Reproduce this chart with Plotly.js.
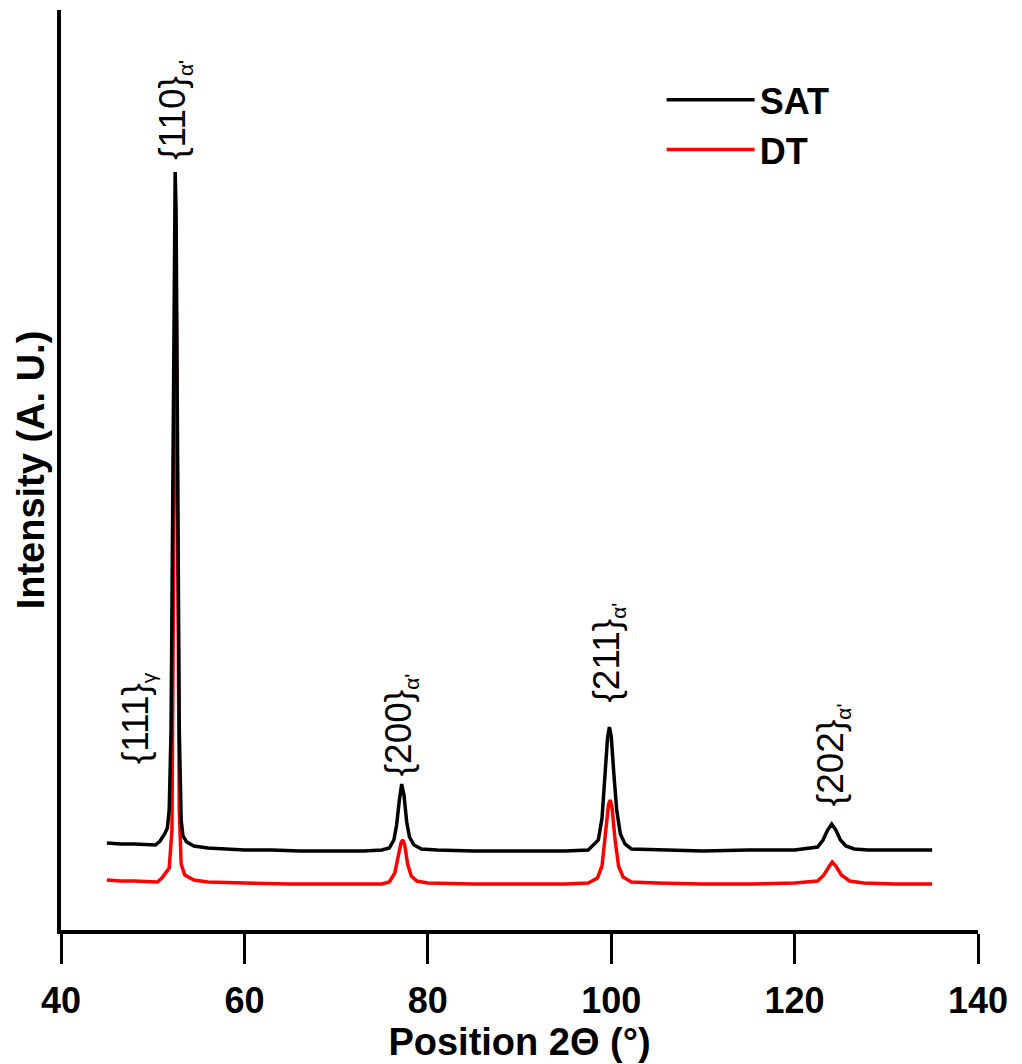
<!DOCTYPE html>
<html>
<head>
<meta charset="utf-8">
<script src="https://cdn.plot.ly/plotly-3.0.1.min.js"></script>
<style>
  html, body { margin: 0; padding: 0; background: #ffffff; }
  #chart { width: 1022px; height: 1064px; }
</style>
</head>
<body>
<div id="chart"></div>
<script>
// ---- Data (2θ in degrees, intensity in arbitrary units) ----
const satX = [45.0, 46.5, 48.0, 49.5, 50.3, 50.8, 51.3, 51.6, 51.8, 52.0, 52.2, 52.35, 52.45, 52.55, 52.7, 52.9, 53.1, 53.3, 53.7, 54.5,
  56.0, 58.0, 60.0, 63.0, 66.0, 70.0, 73.0, 75.0, 75.8, 76.3, 76.6, 76.9, 77.15, 77.4, 77.7, 78.0, 78.5, 79.3, 81.0,
  85.0, 90.0, 95.0, 97.5, 98.6, 99.0, 99.3, 99.6, 99.8, 100.0, 100.3, 100.6, 101.0, 101.5, 102.2, 105.0,
  110.0, 115.0, 120.0, 122.5, 123.1, 123.6, 124.05, 124.5, 125.0, 125.6, 126.5, 128.0, 131.0, 135.0];
const satY = [87, 86, 86, 85, 85, 89, 96, 102, 120, 200, 500, 740, 758, 720, 450, 200, 110, 94, 88, 84,
  82, 81, 80, 80, 79, 79, 79, 80, 82, 90, 105, 130, 146, 135, 108, 93, 85, 81, 80,
  79, 79, 79, 80, 90, 112, 150, 192, 203, 194, 155, 120, 96, 86, 81, 80,
  79, 80, 80, 83, 90, 100, 106, 100, 90, 84, 81, 80, 80, 80];

const dtX = [45.0, 46.5, 48.0, 49.5, 50.5, 51.0, 51.4, 51.8, 52.1, 52.25, 52.4, 52.5, 52.6, 52.75, 52.9, 53.1, 53.5, 54.5,
  56.0, 60.0, 65.0, 70.0, 75.0, 75.8, 76.4, 76.8, 77.1, 77.3, 77.5, 77.8, 78.2, 78.8, 80.0,
  85.0, 90.0, 95.0, 97.5, 98.5, 99.0, 99.4, 99.7, 99.9, 100.1, 100.4, 100.8, 101.3, 102.2, 105.0,
  110.0, 115.0, 120.0, 122.5, 123.2, 123.8, 124.1, 124.5, 125.1, 126.0, 127.5, 131.0, 135.0];
const dtY = [50, 49, 49, 48, 48, 52, 57, 62, 100, 300, 620, 690, 600, 300, 120, 66, 55, 50,
  48, 47, 46, 46, 46, 48, 57, 75, 88, 90, 84, 66, 54, 49, 47,
  46, 46, 46, 47, 52, 64, 95, 125, 130, 122, 92, 64, 53, 48, 47,
  46, 46, 47, 49, 55, 64, 68, 64, 55, 49, 47, 46, 46];

const seriesNames = ["SAT", "DT"];

// Peak labels (reflection, phase subscript) and where they sit
const peakText = ["{111}", "{110}", "{200}", "{211}", "{202}"];
const peakPhase = ["γ", "α'", "α'", "α'", "α'"];
const peakLabelX = [48.3, 52.3, 77.0, 99.6, 124.1];
const peakLabelY = [212, 820, 205, 277, 175];

const xTickVals = [40, 60, 80, 100, 120, 140];

// ---- Chart ----
const FONT = "Liberation Sans, Arial, Helvetica, sans-serif";

const traces = [
  { x: dtX, y: dtY, name: seriesNames[1], type: "scatter", mode: "lines",
    line: { color: "#ff0000", width: 3.5 } },
  { x: satX, y: satY, name: seriesNames[0], type: "scatter", mode: "lines",
    line: { color: "#000000", width: 3.5 } }
];

const annotations = peakText.map((t, i) => ({
  x: peakLabelX[i], y: peakLabelY[i], xref: "x", yref: "y",
  text: t + "<sub><span style=\"font-size:21px\">" + peakPhase[i] + "</span></sub>",
  showarrow: false, textangle: -90,
  xanchor: "center", yanchor: "middle",
  font: { family: FONT, size: 37, color: "#000000" }
}));

const layout = {
  width: 1022, height: 1064,
  margin: { l: 61, r: 44, t: 10, b: 134 },
  paper_bgcolor: "#ffffff", plot_bgcolor: "#ffffff",
  showlegend: true,
  legend: {
    x: 0.655, y: 0.935, xanchor: "left", yanchor: "top",
    traceorder: "reversed", itemwidth: 88,
    font: { family: FONT, size: 36, color: "#000000", weight: "bold" },
    bgcolor: "rgba(0,0,0,0)", borderwidth: 0
  },
  xaxis: {
    range: [40, 140], tickvals: xTickVals, ticktext: xTickVals.map(String),
    showline: true, linewidth: 4, linecolor: "#000000",
    ticks: "outside", ticklen: 30, tickwidth: 3, tickcolor: "#000000",
    ticklabelstandoff: 6,
    tickfont: { family: FONT, size: 36, color: "#000000", weight: "bold" },
    showgrid: false, zeroline: false, automargin: true,
    title: { text: "Position 2Θ (°)", standoff: 2,
      font: { family: FONT, size: 38, color: "#000000", weight: "bold" } }
  },
  yaxis: {
    range: [0, 920],
    showline: true, linewidth: 4, linecolor: "#000000",
    ticks: "", showticklabels: false,
    showgrid: false, zeroline: false, automargin: true,
    title: { text: "Intensity (A. U.)", standoff: 2,
      font: { family: FONT, size: 38, color: "#000000", weight: "bold" } }
  },
  annotations: annotations
};

Plotly.newPlot("chart", traces, layout, { staticPlot: true, displayModeBar: false });
</script>
</body>
</html>
